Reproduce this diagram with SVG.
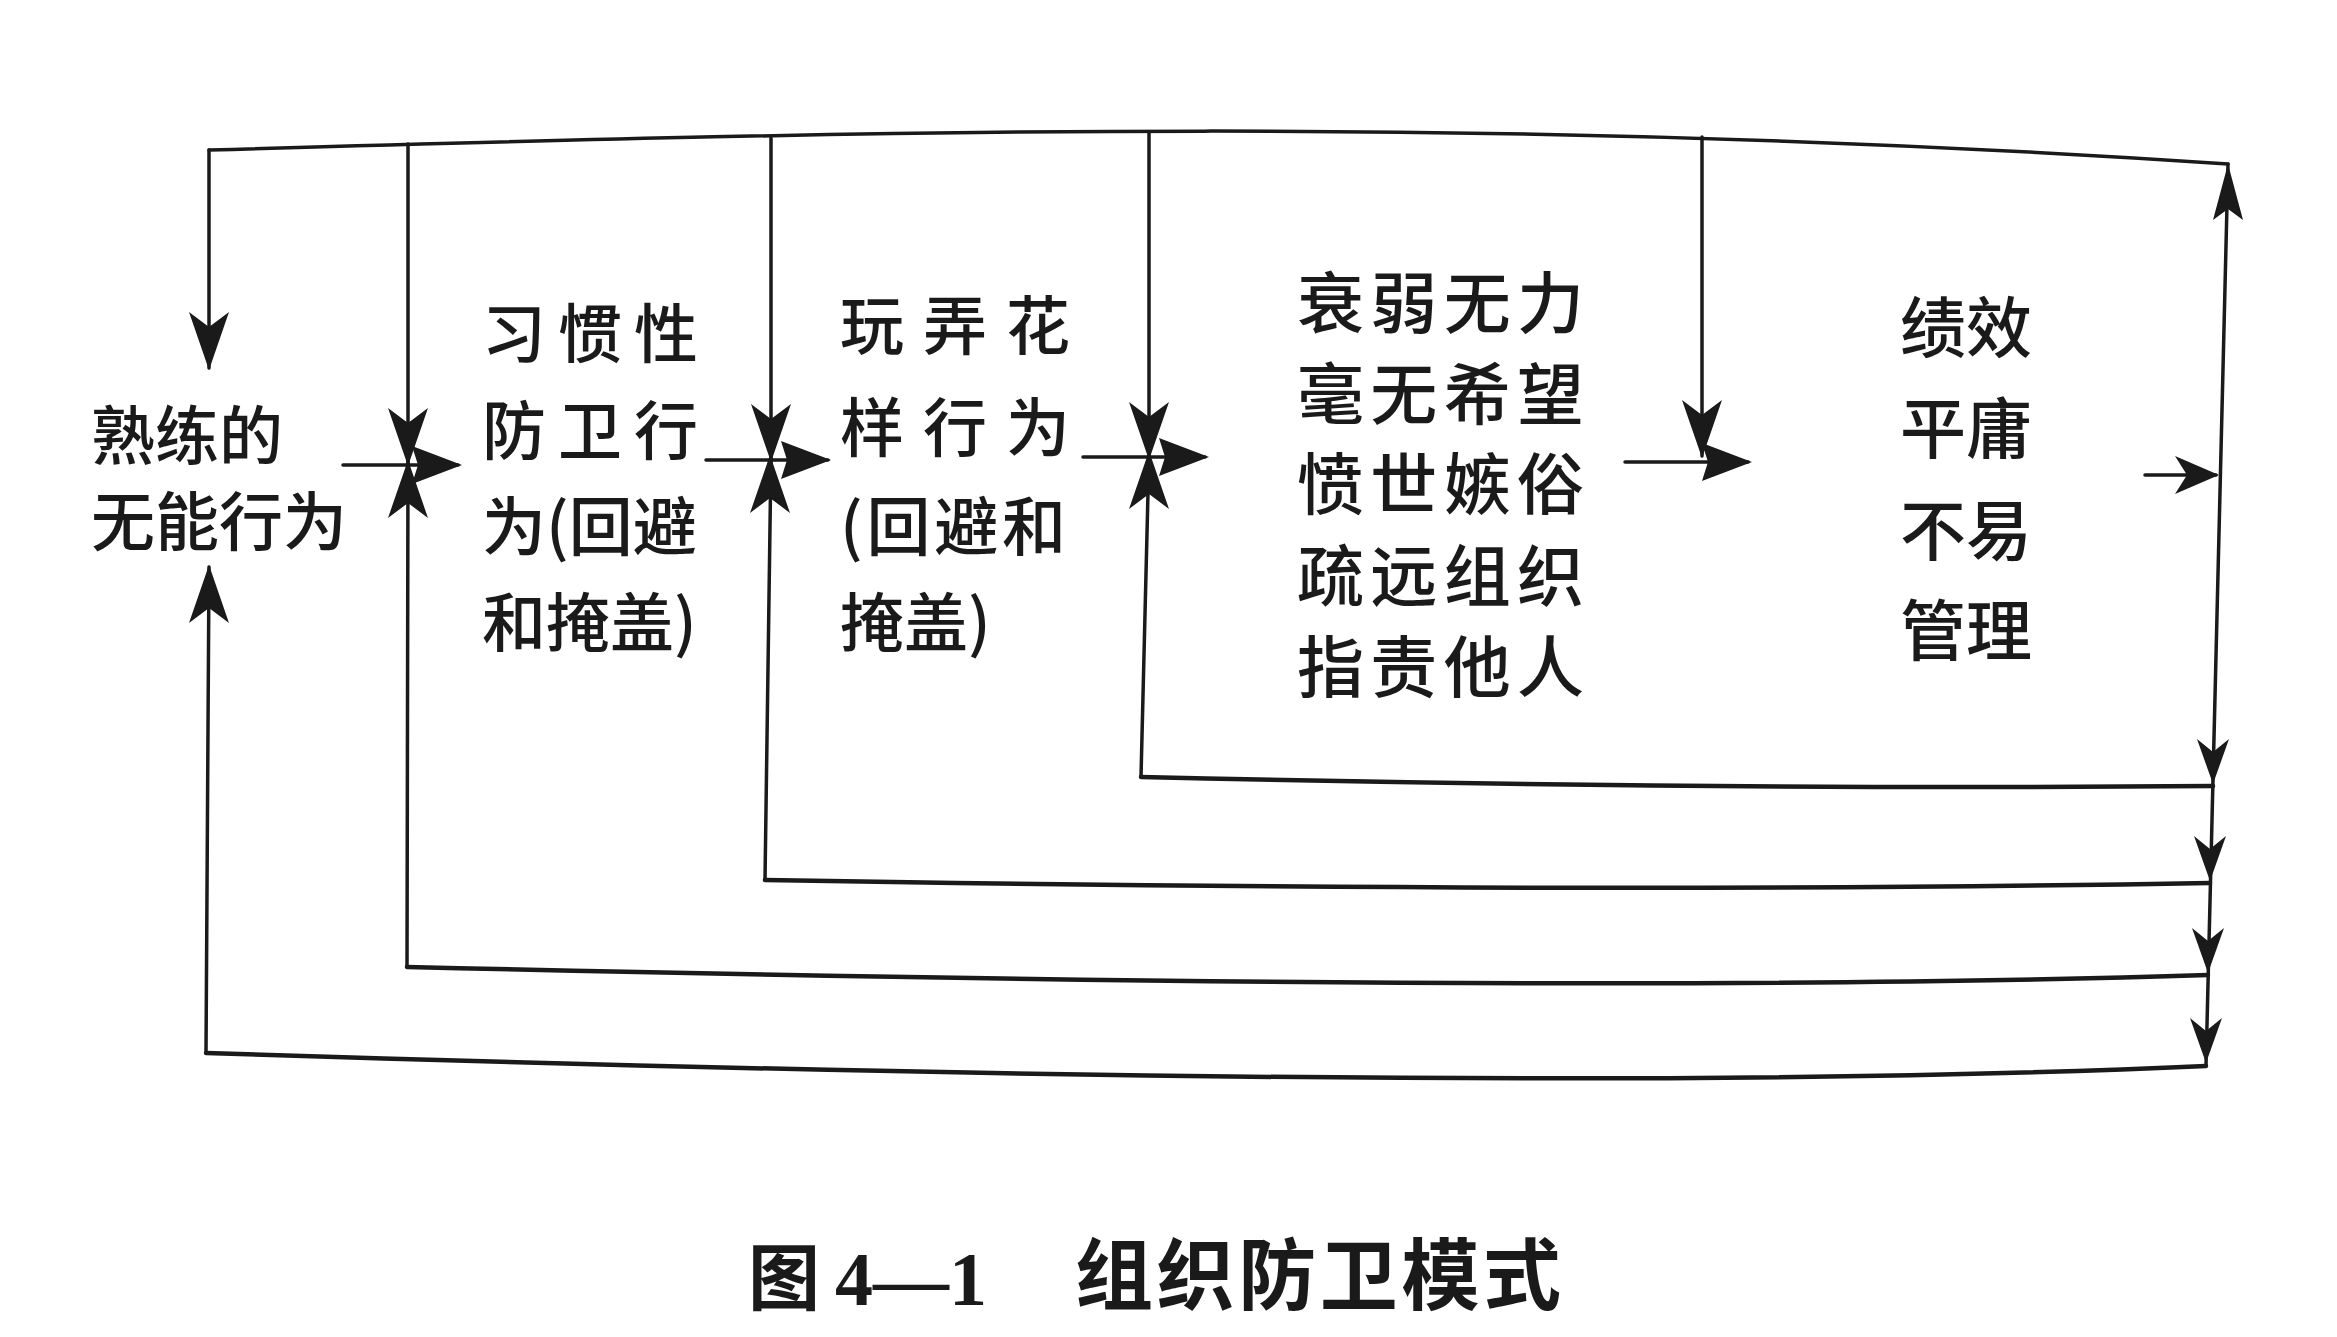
<svg xmlns="http://www.w3.org/2000/svg" xmlns:xlink="http://www.w3.org/1999/xlink" width="2337" height="1337" viewBox="0 0 2337 1337">
  <style>
    .bg { fill: #ffffff; }
    .line { fill: none; stroke: #1a1a1a; stroke-width: 3.5; stroke-linecap: round; stroke-linejoin: round; }
    .base { fill: none; stroke: #1a1a1a; stroke-width: 4.5; stroke-linecap: round; }
    .head { fill: #1a1a1a; }
    .label { font-family: "Noto Sans CJK SC", "Noto Sans", sans-serif; font-weight: 500; fill: #1a1a1a; }
    .cap { font-family: "Noto Sans CJK SC", sans-serif; font-weight: 700; fill: #1a1a1a; }
    .capnum { font-family: "Liberation Serif", serif; font-weight: 700; fill: #1a1a1a; }
  </style>
  <defs>
    <!-- notched arrowheads, tip at the origin, pointing along +x -->
    <path id="ah" d="M0,0 L-58,-20 L-43,0 L-58,20 Z"/>
    <path id="ahh" d="M0,0 L-50,-19 L-44,0 L-50,19 Z"/>
    <path id="ahs" d="M0,0 L-45,-16 L-32,0 L-45,16 Z"/>
    <path id="ahm" d="M0,0 L-44,-19 L-32,0 L-44,19 Z"/>
    <path id="ahn" d="M0,0 L-56,-15 L-45,0 L-56,15 Z"/>
  </defs>

  <rect class="bg" x="0" y="0" width="2337" height="1337"/>

  <g id="connectors">
    <!-- feedback bus along the top -->
    <path class="line" d="M209,150 C900,130 1500,115 2228,164"/>
    <!-- right return rail -->
    <path class="line" d="M2228,164 L2206,1066"/>

    <!-- drops from the top bus -->
    <path class="line" d="M209,150 L209,368"/>
    <path class="line" d="M408,144 L408,466"/>
    <path class="line" d="M771,138 L771,462"/>
    <path class="line" d="M1149,132 L1149,460"/>
    <path class="line" d="M1702,137 L1702,456"/>

    <!-- rises from the bottom loops -->
    <path class="line" d="M206,1053 L209,567"/>
    <path class="line" d="M407,967 L408,462"/>
    <path class="line" d="M765,880 L771,456"/>
    <path class="line" d="M1141,777 L1149,452"/>

    <!-- bottom loops back to the right rail -->
    <path class="base" d="M1141,777 Q1700,790 2213,786"/>
    <path class="base" d="M765,880 Q1600,894 2210,883"/>
    <path class="base" d="M407,967 Q1600,995 2208,975"/>
    <path class="base" d="M206,1053 Q1550,1096 2206,1066"/>

    <!-- forward arrows between stages -->
    <path class="line" d="M343,465 L458,465"/>
    <path class="line" d="M706,460 L828,460"/>
    <path class="line" d="M1083,457 L1205,457"/>
    <path class="line" d="M1625,462 L1748,462"/>
    <path class="line" d="M2145,475 L2216,475"/>

    <!-- arrowheads -->
    <use xlink:href="#ah" transform="translate(209,370) rotate(90)" class="head"/>
    <use xlink:href="#ah" transform="translate(209,565) rotate(-90)" class="head"/>

    <use xlink:href="#ahh" transform="translate(462,465)" class="head"/>
    <use xlink:href="#ah" transform="translate(408,466) rotate(90)" class="head"/>
    <use xlink:href="#ah" transform="translate(408,460) rotate(-90)" class="head"/>

    <use xlink:href="#ahh" transform="translate(831,460)" class="head"/>
    <use xlink:href="#ah" transform="translate(771,462) rotate(90)" class="head"/>
    <use xlink:href="#ah" transform="translate(770,455) rotate(-90)" class="head"/>

    <use xlink:href="#ahh" transform="translate(1209,457)" class="head"/>
    <use xlink:href="#ah" transform="translate(1149,460) rotate(90)" class="head"/>
    <use xlink:href="#ah" transform="translate(1149,451) rotate(-90)" class="head"/>

    <use xlink:href="#ahh" transform="translate(1752,462)" class="head"/>
    <use xlink:href="#ah" transform="translate(1702,458) rotate(90)" class="head"/>

    <use xlink:href="#ahm" transform="translate(2219,475)" class="head"/>
    <use xlink:href="#ahn" transform="translate(2228,164) rotate(-90)" class="head"/>

    <use xlink:href="#ahs" transform="translate(2213,784) rotate(90)" class="head"/>
    <use xlink:href="#ahs" transform="translate(2210,881) rotate(90)" class="head"/>
    <use xlink:href="#ahs" transform="translate(2208,973) rotate(90)" class="head"/>
    <use xlink:href="#ahs" transform="translate(2206,1063) rotate(90)" class="head"/>
  </g>

  <g id="n-skilled-incompetence">
    <text class="label" font-size="64" x="91" y="459">熟练的</text>
    <text class="label" font-size="64" x="91" y="545">无能行为</text>
  </g>

  <g id="n-habitual-defense">
    <text class="label" font-size="64" x="482" y="357" textLength="216" lengthAdjust="spacing">习惯性</text>
    <text class="label" font-size="64" x="482" y="454" textLength="216" lengthAdjust="spacing">防卫行</text>
    <text class="label" font-size="64" x="482" y="550">为(回避</text>
    <text class="label" font-size="64" x="482" y="646">和掩盖)</text>
  </g>

  <g id="n-tricks">
    <text class="label" font-size="64" x="840" y="349" textLength="230" lengthAdjust="spacing">玩弄花</text>
    <text class="label" font-size="64" x="840" y="451" textLength="230" lengthAdjust="spacing">样行为</text>
    <text class="label" font-size="64" x="840" y="550" textLength="226" lengthAdjust="spacing">(回避和</text>
    <text class="label" font-size="64" x="840" y="646">掩盖)</text>
  </g>

  <g id="n-decline">
    <text class="label" font-size="67" x="1297" y="328" textLength="287" lengthAdjust="spacing">衰弱无力</text>
    <text class="label" font-size="67" x="1297" y="419" textLength="287" lengthAdjust="spacing">毫无希望</text>
    <text class="label" font-size="67" x="1297" y="509" textLength="287" lengthAdjust="spacing">愤世嫉俗</text>
    <text class="label" font-size="67" x="1297" y="601" textLength="287" lengthAdjust="spacing">疏远组织</text>
    <text class="label" font-size="67" x="1297" y="692" textLength="287" lengthAdjust="spacing">指责他人</text>
  </g>

  <g id="n-performance">
    <text class="label" font-size="66" x="1900" y="352">绩效</text>
    <text class="label" font-size="66" x="1900" y="453">平庸</text>
    <text class="label" font-size="66" x="1900" y="555">不易</text>
    <text class="label" font-size="66" x="1900" y="655">管理</text>
  </g>

  <g id="caption">
    <text class="cap" font-size="72" x="748" y="1304">图</text>
    <text class="capnum" font-size="76" x="835" y="1305">4—1</text>
    <text class="cap" font-size="78" x="1075" y="1304" textLength="486" lengthAdjust="spacing">组织防卫模式</text>
  </g>
</svg>
